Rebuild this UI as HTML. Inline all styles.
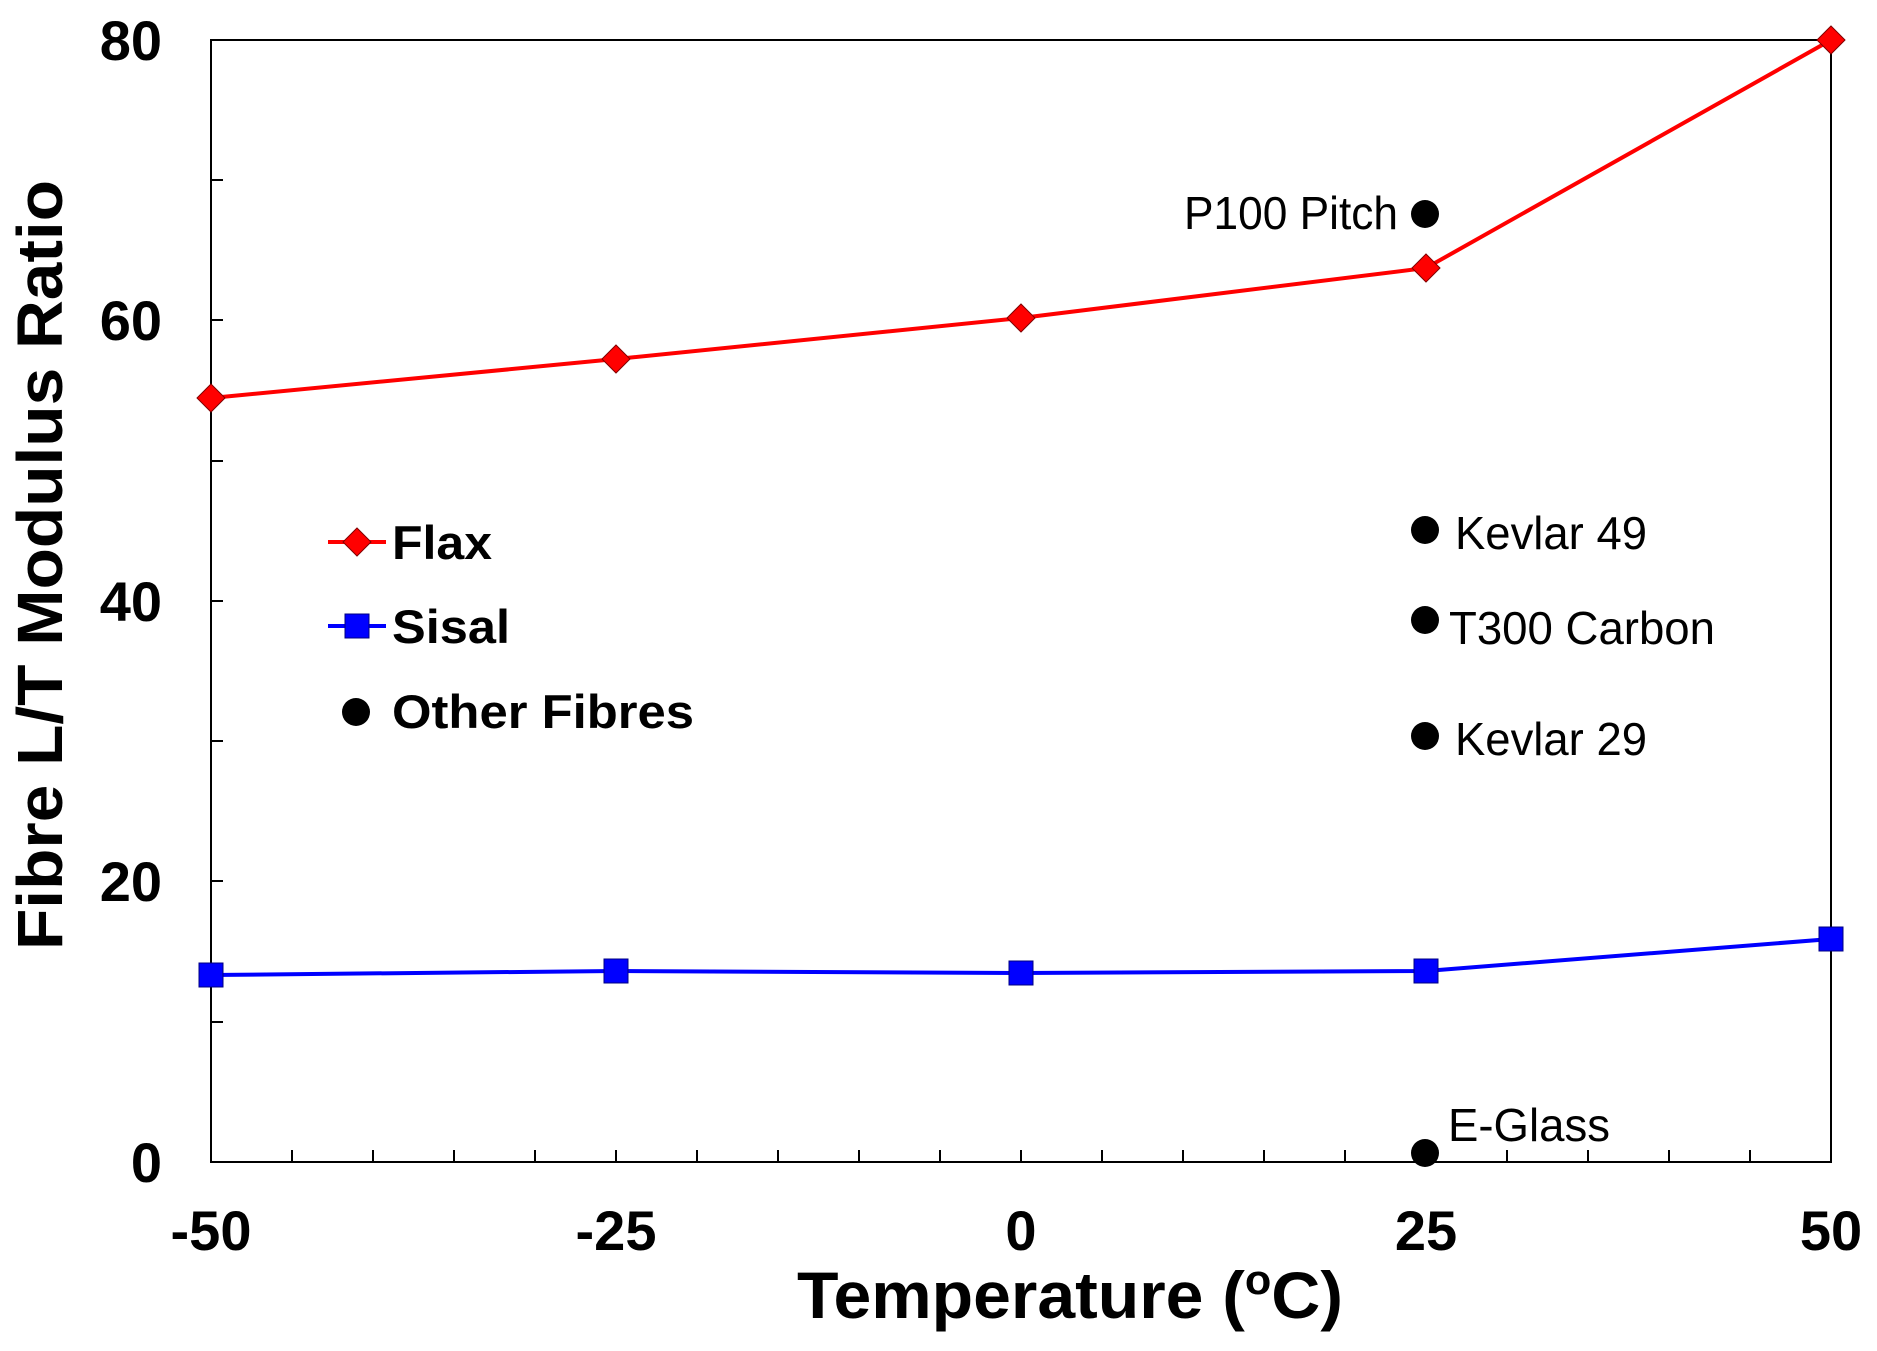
<!DOCTYPE html>
<html><head><meta charset="utf-8"><style>html,body{margin:0;padding:0;background:#fff}svg{display:block}</style></head>
<body>
<svg width="1877" height="1351" viewBox="0 0 1877 1351" xmlns="http://www.w3.org/2000/svg" font-family="Liberation Sans, Arial, sans-serif">
<rect width="1877" height="1351" fill="#fff"/>
<rect x="211" y="40" width="1620" height="1122" fill="none" stroke="#000" stroke-width="2"/>
<g stroke="#000" stroke-width="2">
<line x1="292" y1="1162" x2="292" y2="1150"/><line x1="373" y1="1162" x2="373" y2="1150"/><line x1="454" y1="1162" x2="454" y2="1150"/><line x1="535" y1="1162" x2="535" y2="1150"/><line x1="616" y1="1162" x2="616" y2="1150"/><line x1="697" y1="1162" x2="697" y2="1150"/><line x1="778" y1="1162" x2="778" y2="1150"/><line x1="859" y1="1162" x2="859" y2="1150"/><line x1="940" y1="1162" x2="940" y2="1150"/><line x1="1021" y1="1162" x2="1021" y2="1150"/><line x1="1102" y1="1162" x2="1102" y2="1150"/><line x1="1183" y1="1162" x2="1183" y2="1150"/><line x1="1264" y1="1162" x2="1264" y2="1150"/><line x1="1345" y1="1162" x2="1345" y2="1150"/><line x1="1426" y1="1162" x2="1426" y2="1150"/><line x1="1507" y1="1162" x2="1507" y2="1150"/><line x1="1588" y1="1162" x2="1588" y2="1150"/><line x1="1669" y1="1162" x2="1669" y2="1150"/><line x1="1750" y1="1162" x2="1750" y2="1150"/>
<line x1="211" y1="1022" x2="223" y2="1022"/><line x1="211" y1="881" x2="223" y2="881"/><line x1="211" y1="741" x2="223" y2="741"/><line x1="211" y1="601" x2="223" y2="601"/><line x1="211" y1="461" x2="223" y2="461"/><line x1="211" y1="320" x2="223" y2="320"/><line x1="211" y1="180" x2="223" y2="180"/>
</g>
<g font-weight="bold" font-size="56" text-anchor="end" fill="#000">
<text x="162" y="1182">0</text><text x="162" y="901">20</text><text x="162" y="621">40</text><text x="162" y="340">60</text><text x="162" y="60">80</text>
</g>
<g font-weight="bold" font-size="56" text-anchor="middle" fill="#000">
<text x="211" y="1250">-50</text><text x="616" y="1250">-25</text><text x="1021" y="1250">0</text><text x="1426" y="1250">25</text><text x="1831" y="1250">50</text>
</g>
<text x="1070" y="1318" font-weight="bold" font-size="66" text-anchor="middle" textLength="546" lengthAdjust="spacingAndGlyphs">Temperature (<tspan font-size="42" dy="-24">o</tspan><tspan dy="24">C)</tspan></text>
<text transform="translate(62,565) rotate(-90)" font-weight="bold" font-size="64" text-anchor="middle" textLength="770" lengthAdjust="spacingAndGlyphs">Fibre L/T Modulus  Ratio</text>
<polyline fill="none" stroke="#ff0000" stroke-width="4" points="211,398 616,359 1021,318 1426,268 1831,40"/>
<g fill="#ff0000" stroke="#800000" stroke-width="1">
<polygon points="211,384 225,398 211,412 197,398"/><polygon points="616,345 630,359 616,373 602,359"/><polygon points="1021,304 1035,318 1021,332 1007,318"/><polygon points="1426,254 1440,268 1426,282 1412,268"/><polygon points="1831,26 1845,40 1831,54 1817,40"/>
</g>
<polyline fill="none" stroke="#0000ff" stroke-width="4" points="211,975 616,971 1021,973 1426,971 1831,939"/>
<g fill="#0000ff" stroke="#000080" stroke-width="1">
<rect x="199" y="963" width="24" height="24"/><rect x="604" y="959" width="24" height="24"/><rect x="1009" y="961" width="24" height="24"/><rect x="1414" y="959" width="24" height="24"/><rect x="1819" y="927" width="24" height="24"/>
</g>
<g fill="#000">
<circle cx="1425" cy="214" r="14"/><circle cx="1425" cy="530" r="14"/><circle cx="1425" cy="620" r="14"/><circle cx="1425" cy="736" r="14"/><circle cx="1425" cy="1153" r="14"/>
</g>
<g font-size="46" fill="#000">
<text x="1184" y="229" textLength="214" lengthAdjust="spacingAndGlyphs">P100 Pitch</text>
<text x="1455" y="549" textLength="192" lengthAdjust="spacingAndGlyphs">Kevlar 49</text>
<text x="1449" y="644" textLength="266" lengthAdjust="spacingAndGlyphs">T300 Carbon</text>
<text x="1455" y="755" textLength="192" lengthAdjust="spacingAndGlyphs">Kevlar 29</text>
<text x="1448" y="1141" textLength="162" lengthAdjust="spacingAndGlyphs">E-Glass</text>
</g>
<line x1="328" y1="542" x2="386" y2="542" stroke="#ff0000" stroke-width="4"/>
<polygon points="357,528 371,542 357,556 343,542" fill="#ff0000" stroke="#800000"/>
<line x1="328" y1="626" x2="386" y2="626" stroke="#0000ff" stroke-width="4"/>
<rect x="345" y="614" width="24" height="24" fill="#0000ff" stroke="#000080"/>
<circle cx="356" cy="712" r="14" fill="#000"/>
<g font-weight="bold" font-size="47" fill="#000">
<text x="392" y="559" textLength="100" lengthAdjust="spacingAndGlyphs">Flax</text><text x="392" y="643" textLength="118" lengthAdjust="spacingAndGlyphs">Sisal</text><text x="392" y="728" textLength="302" lengthAdjust="spacingAndGlyphs">Other Fibres</text>
</g>
</svg>
</body></html>
